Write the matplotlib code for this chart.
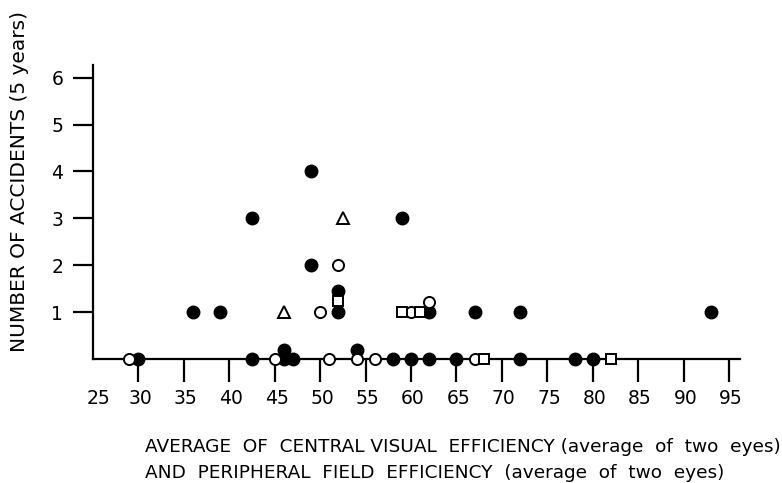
import matplotlib
matplotlib.use("Agg")
import matplotlib.pyplot as plt

# Data
filled_x = [30, 36, 39, 42.5, 42.5, 46, 46, 47, 49, 49, 52, 52, 54, 58, 59, 60, 62, 62, 65, 67, 72, 72, 78, 80, 93]
filled_y = [0, 1, 1, 3, 0, 0.2, 0, 0, 4, 2, 1, 1.46, 0.2, 0, 3, 0, 1, 0, 0, 1, 1, 0, 0, 0, 1]
circle_x = [29, 45, 50, 51, 52, 54, 56, 60, 62, 67]
circle_y = [0, 0, 1, 0, 2, 0, 0, 1, 1.21, 0]
square_x = [52, 59, 61, 68, 82]
square_y = [1.23, 1, 1, 0, 0]
triangle_x = [46, 52.5]
triangle_y = [1, 3]

xticks = [30, 35, 40, 45, 50, 55, 60, 65, 70, 75, 80, 85, 90, 95]
xlabel_values = [25, 30, 35, 40, 45, 50, 55, 60, 65, 70, 75, 80, 85, 90, 95]
yticks = [1, 2, 3, 4, 5, 6]

plt.rcParams['font.family'] = ['DejaVu Sans']

fig = plt.figure(figsize=(7.82, 4.83), dpi=100)
ax = fig.add_axes([93/782, 1-359/483, (740-93)/782, (359-65)/483])
ax.set_xlim(25, 96.2)
ax.set_ylim(0, 6.27)

for s in ['top', 'right']:
    ax.spines[s].set_visible(False)
for s in ['left', 'bottom']:
    ax.spines[s].set_linewidth(1.6)

ax.set_xticks(xticks)
ax.set_xticklabels([])
ax.set_yticks(yticks)
ax.set_yticklabels([str(v) for v in yticks], fontsize=13.5)
ax.tick_params(axis='x', direction='out', length=16.5, width=1.6)
ax.tick_params(axis='y', direction='out', length=14.5, width=1.6, pad=7)

# x tick labels (including 25 at the origin)
for v in xlabel_values:
    off = 0.6 if v == 25 else 0.2
    ax.text(v + off, -0.84, str(v), ha='center', va='center', fontsize=13.5,
            clip_on=False)

kw = dict(clip_on=False, zorder=5, linestyle='none')
ax.plot(filled_x, filled_y, marker='o', markersize=9, color='black', **kw)
ax.plot(circle_x, circle_y, marker='o', markersize=8, markerfacecolor='white',
        markeredgecolor='black', markeredgewidth=1.4, **kw)
ax.plot(square_x, square_y, marker='s', markersize=7.5, markerfacecolor='white',
        markeredgecolor='black', markeredgewidth=1.4, **kw)
ax.plot(triangle_x, triangle_y, marker='^', markersize=9, markerfacecolor='white',
        markeredgecolor='black', markeredgewidth=1.4, **kw)

fig.text(20/782, 1-181/483, "NUMBER OF ACCIDENTS (5 years)", rotation=90,
         ha='center', va='center', fontsize=14.5)
fig.text(145/782, 1-447/483, "AVERAGE  OF  CENTRAL VISUAL  EFFICIENCY (average  of  two  eyes)",
         ha='left', va='center', fontsize=13.3)
fig.text(145/782, 1-473/483, "AND  PERIPHERAL  FIELD  EFFICIENCY  (average  of  two  eyes)",
         ha='left', va='center', fontsize=13.3)

fig.savefig("out.png", dpi=100)
